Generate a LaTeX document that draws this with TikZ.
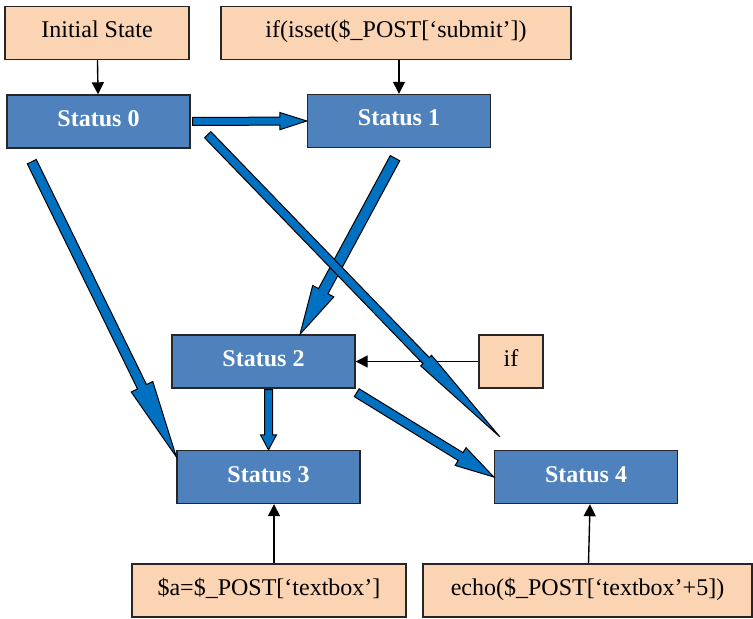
\documentclass[tikz,border=0pt]{standalone}
\usepackage{fontspec}
\setmainfont{Liberation Serif}
\usetikzlibrary{calc,arrows.meta}

\definecolor{codefill}{HTML}{FBD4B4}
\definecolor{statefill}{HTML}{4F81BD}
\definecolor{arrowfill}{HTML}{0070C0}

% from, to, shaft half width, head half width, head length
\newcommand{\blockarrow}[5]{%
	\coordinate (ba-a) at (#1);
	\coordinate (ba-b) at (#2);
	\coordinate (ba-c) at ($(ba-b)!#5!(ba-a)$);
	\filldraw[blockarrow] ($(ba-a)!#3!90:(ba-b)$) -- ($(ba-c)!#3!-90:(ba-a)$) -- ($(ba-c)!#4!-90:(ba-a)$) -- (ba-b)
		-- ($(ba-c)!#4!90:(ba-a)$) -- ($(ba-c)!#3!90:(ba-a)$) -- ($(ba-a)!#3!-90:(ba-b)$) -- cycle;
}

\begin{document}
\begin{tikzpicture}[x=0.5pt, y=-0.5pt,
		code/.style={draw=black!85, line width=0.7pt, fill=codefill, minimum height=26.5pt, inner sep=0pt, text height=8pt, text depth=3pt, font=\fontsize{12}{14}\selectfont},
		status/.style={draw=black!85, line width=0.7pt, fill=statefill, minimum width=91.5pt, minimum height=26.5pt, inner sep=0pt, text height=8pt, text depth=3pt, text=white, font=\fontsize{12}{14}\selectfont\bfseries},
		link/.style={-{Triangle[length=6pt,width=6pt]}, line width=0.7pt},
		blockarrow/.style={draw=black, fill=arrowfill, line width=0.5pt, line join=miter}]

				\useasboundingbox (0,0) rectangle (753,619);

				\node [code, minimum width=92pt] (init) at (97, 33) {Initial State};
				\node [code, minimum width=175pt] (isset) at (396, 33) {if(isset(\$\_POST[‘submit’])};

				\node [status] (s0) at (98.5, 121.5) {Status 0};
				\node [status] (s1) at (399, 121) {Status 1};
				\node [status] (s2) at (263.5, 361.5) {Status 2};
				\node [status] (s3) at (268.5, 477) {Status 3};
				\node [status] (s4) at (586, 477) {Status 4};

				\node [code, minimum width=32pt] (iff) at (511, 361.5) {if};
				\node [code, minimum width=137pt] (assign) at (269, 590.5) {\$a=\$\_POST[‘textbox’]};
				\node [code, minimum width=164.5pt] (echo) at (587.5, 590.5) {echo(\$\_POST[‘textbox’+5])};

				\draw [link] (init) -- (s0);
				\draw [link] (s1.north |- isset.south) -- (s1.north);
				\draw [link] (iff.west) -- (s2.east);
				\draw [link] ([xshift=2.5pt]assign.north) -- ([xshift=2.5pt]assign.north |- s3.south);
				\draw [link] ([xshift=0.5pt]echo.north) -- ([xshift=2pt]s4.south);

				\blockarrow{[shift={(2,0)}]s0.east}{s1.west}{2pt}{4.3pt}{13.5pt}
				\blockarrow{[shift={(25.5,13)}]s0.south west}{[shift={(0,7)}]s3.north west}{2.5pt}{6pt}{39pt}
				\blockarrow{[shift={(-4,10)}]s1.south}{[shift={(36.5,0)}]s2.north}{2.7pt}{6pt}{24.5pt}
				\blockarrow{[shift={(0,1)}]s3.north |- s2.south}{s3.north}{2pt}{4pt}{7.5pt}
				\blockarrow{[shift={(1,4)}]s2.south east}{s4.west}{2.3pt}{5.2pt}{19.5pt}
				\blockarrow{[shift={(17,-14)}]s0.south east}{[shift={(6,-13)}]s4.north west}{2.2pt}{3.8pt}{53pt}

		\end{tikzpicture}
\end{document}
